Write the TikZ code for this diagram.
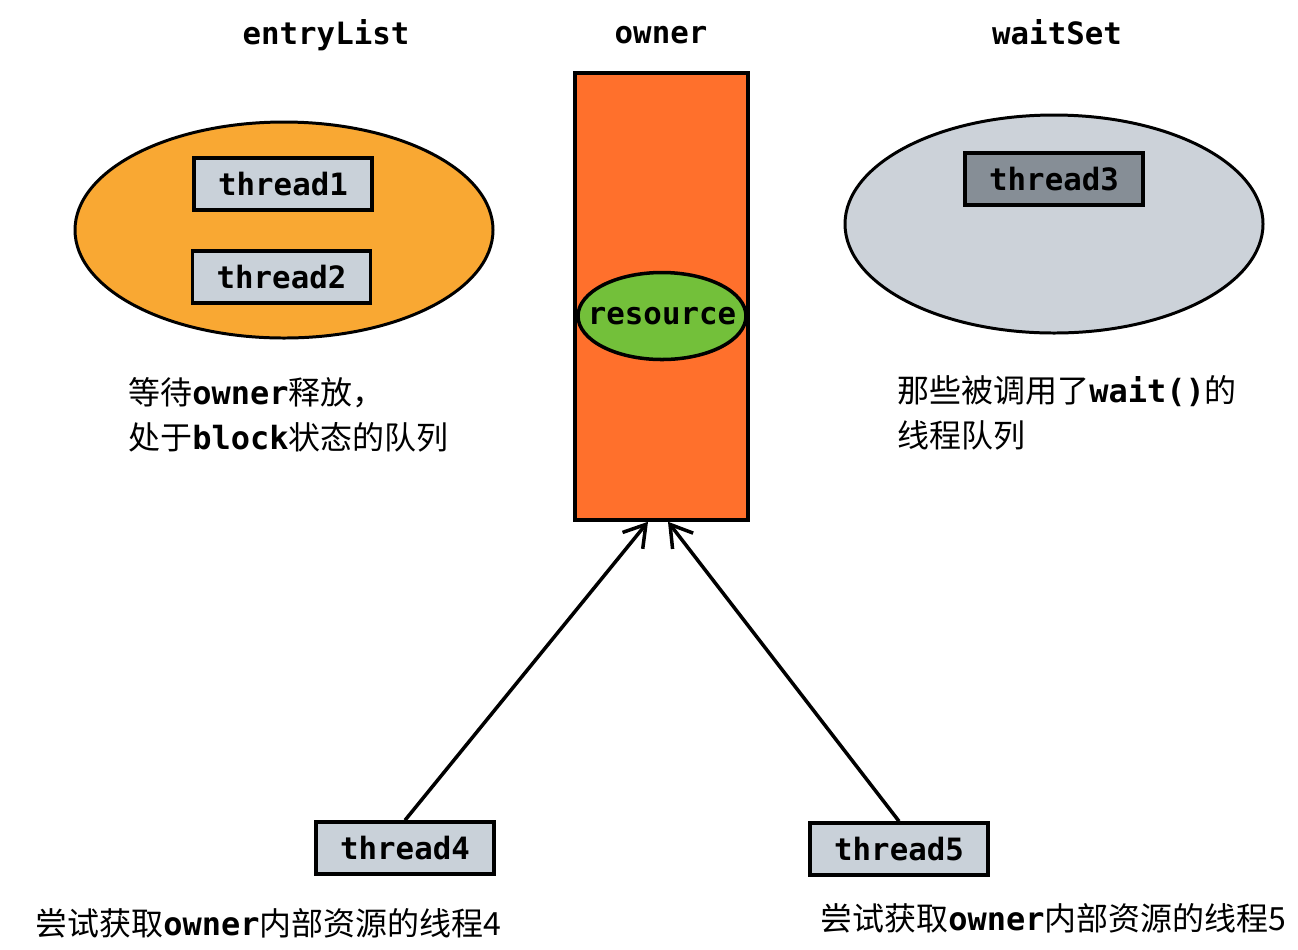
\documentclass[tikz,border=0pt]{standalone}
\usepackage{fontspec}
\setmainfont{Noto Sans CJK SC}
\newfontfamily\codefont{DejaVu Sans Mono}
\usepackage{tikz}
\usetikzlibrary{
  positioning, shapes.geometric, arrows.meta
}
\definecolor{entryorange}{HTML}{F9A833}
\definecolor{ownerred}{HTML}{FF702C}
\definecolor{resgreen}{HTML}{73C03A}
\definecolor{lightgrey}{HTML}{C9D1D9}
\definecolor{waitgrey}{HTML}{CCD2D9}
\definecolor{darkgrey}{HTML}{868E96}
\newcommand{\codeword}[1]{{\codefont\bfseries #1}}
\tikzset{
  thbox/.style={
    draw=black, fill=#1, line width=2pt,
    minimum width=3.56cm, minimum height=1.04cm,
    inner sep=0pt, font=\codefont\bfseries\fontsize{17.5}{20}\selectfont
  },
  thbox/.default=lightgrey,
  setshape/.style={
    ellipse, draw=black, fill=#1, line width=1.7pt,
    minimum width=8.36cm, minimum height=4.32cm
  },
  title/.style={font=\codefont\bfseries\fontsize{17.5}{20}\selectfont},
  desc/.style={
    anchor=west, align=left, inner sep=0pt,
    font=\fontsize{18.2}{25.5}\selectfont
  },
  flowarrow/.style={-{Straight Barb[length=0.42cm, width=0.52cm]}, line width=2pt}
}

\begin{document}
\begin{tikzpicture}[
  ownerbox/.style={draw=black, fill=ownerred, line width=2pt, minimum width=3.46cm, minimum height=8.94cm},
  resshape/.style={ellipse, draw=black, fill=resgreen, line width=2pt, minimum width=3.36cm, minimum height=1.74cm, inner sep=0pt}
]
\useasboundingbox (0,0) rectangle (25.96,-18.98);

%% Titles
\node[title] (tentry) at (6.52,-0.70) {entryList};
\node[title] (towner) at (13.22,-0.70) {owner};
\node[title] (twait) at (21.14,-0.64) {waitSet};

%% entryList
\node[setshape=entryorange] (entry) at (5.68,-4.60) {};
\node[thbox] (th1) at (5.66,-3.68) {thread1};
\node[thbox] (th2) at (5.63,-5.54) {thread2};

%% owner
\node[ownerbox] (owner) at (13.23,-5.93) {};
\node[resshape, label={[title]center:resource}] (res) at (13.24,-6.32) {};

%% waitSet
\node[setshape=waitgrey, minimum height=4.36cm] (wait) at (21.08,-4.48) {};
\node[thbox=darkgrey] (th3) at (21.08,-3.58) {thread3};

%% Descriptions
\node[desc] (entrydesc) at (2.56,-8.29) {等待\codeword{owner}释放，\\处于\codeword{block}状态的队列};
\node[desc] (waitdesc) at (17.94,-8.25) {那些被调用了\codeword{wait()}的\\线程队列};

%% Competing threads
\node[thbox] (th4) at (8.10,-16.96) {thread4};
\node[thbox] (th5) at (17.98,-16.98) {thread5};
\node[desc] (desc4) at (0.70,-18.46) {尝试获取\codeword{owner}内部资源的线程4};
\node[desc] (desc5) at (16.40,-18.36) {尝试获取\codeword{owner}内部资源的线程5};

%% Arrows
\draw[flowarrow] (th4.north) -- ([xshift=-0.27cm]owner.south);
\draw[flowarrow] (th5.north) -- ([xshift=0.13cm]owner.south);

\end{tikzpicture}
\end{document}
